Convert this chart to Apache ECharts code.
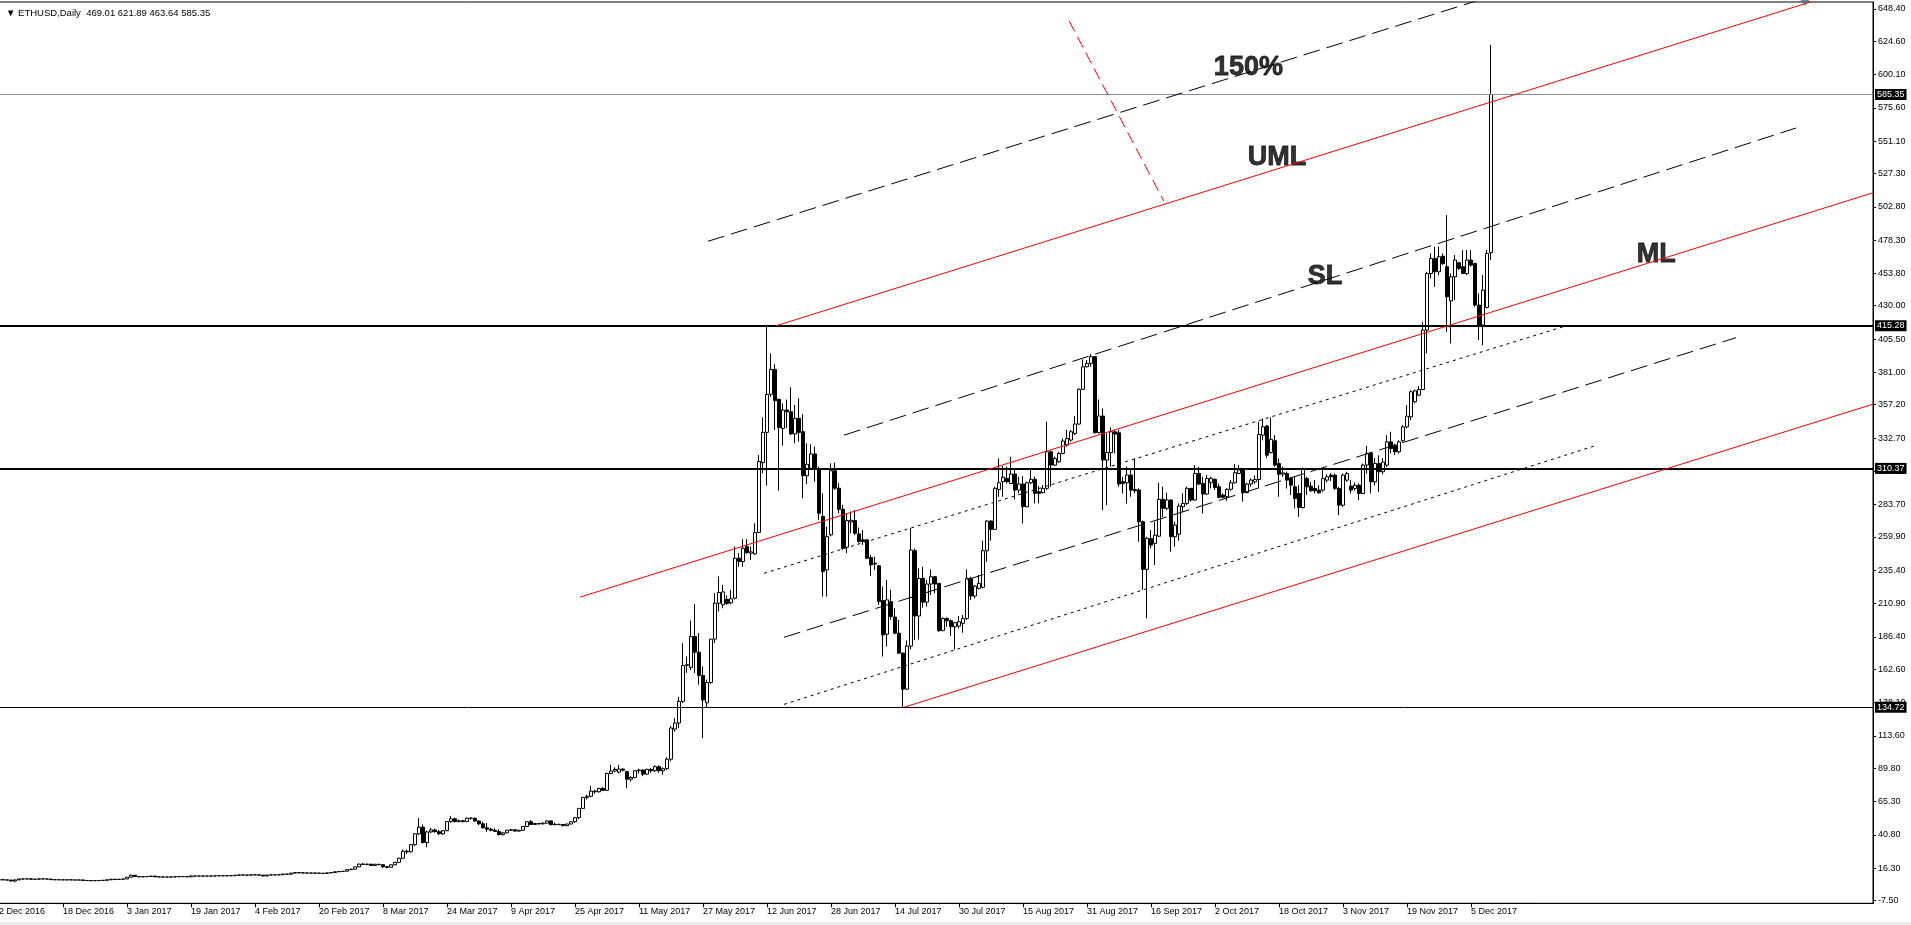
<!DOCTYPE html>
<html>
<head>
<meta charset="utf-8">
<script src="https://cdn.jsdelivr.net/npm/echarts@6/dist/echarts.min.js"></script>
<style>html,body{margin:0;padding:0;background:#fff;}#c{width:1911px;height:925px;}</style>
</head>
<body>
<div id="c"></div>
<script>
// ---- DATA ----
const symbolName = 'ETHUSD,Daily';
const firstDay = '2016-12-02';
const slotCount = 469; // daily slots incl. chart-shift space
const tickLabels = ['2 Dec 2016','18 Dec 2016','3 Jan 2017','19 Jan 2017','4 Feb 2017','20 Feb 2017','8 Mar 2017','24 Mar 2017','9 Apr 2017','25 Apr 2017','11 May 2017','27 May 2017','12 Jun 2017','28 Jun 2017','14 Jul 2017','30 Jul 2017','15 Aug 2017','31 Aug 2017','16 Sep 2017','2 Oct 2017','18 Oct 2017','3 Nov 2017','19 Nov 2017','5 Dec 2017'];
const priceTicks = [648.40,624.60,600.10,575.60,551.10,527.30,502.80,478.30,453.80,430.00,405.50,381.00,357.20,332.70,308.20,283.70,259.90,235.40,210.90,186.40,162.60,138.10,113.60,89.80,65.30,40.80,16.30,-7.50];
// daily candles: [open, high, low, close]
const ohlc = [
[7.7,8.0,7.5,7.9],[7.9,8.0,7.6,7.7],[7.7,7.8,7.5,7.6],[7.6,7.7,6.5,6.9],[6.9,7.9,6.0,7.7],[7.7,8.5,7.6,8.4],[8.4,8.6,8.2,8.4],[8.4,8.6,8.3,8.5],[8.5,8.6,8.1,8.2],[8.2,8.3,8.0,8.2],
[8.2,8.6,8.1,8.5],[8.5,8.6,8.3,8.4],[8.4,8.5,8.2,8.3],[8.3,8.4,7.8,7.9],[7.9,8.0,7.6,7.8],[7.8,7.9,7.7,7.8],[7.8,7.9,7.6,7.7],[7.7,7.9,7.6,7.8],[7.8,7.9,7.6,7.7],[7.7,7.8,7.5,7.6],
[7.6,7.8,7.5,7.7],[7.7,7.8,7.2,7.3],[7.3,7.4,7.1,7.2],[7.2,7.3,7.0,7.1],[7.1,7.3,7.0,7.2],[7.2,7.4,7.1,7.3],[7.3,7.5,7.2,7.4],[7.4,7.9,7.3,7.8],[7.8,8.3,7.7,8.2],[8.2,8.3,7.9,8.0],
[8.0,8.3,7.9,8.2],[8.2,8.5,8.1,8.4],[8.4,9.8,8.3,9.7],[9.7,11.6,9.6,11.1],[11.1,11.4,9.9,10.2],[10.2,10.3,9.6,10.0],[10.0,10.2,9.7,10.1],[10.1,10.3,9.9,10.2],[10.2,10.6,10.1,10.5],[10.5,10.6,9.8,10.0],
[10.0,10.3,9.7,9.9],[9.9,10.0,9.6,9.8],[9.8,9.9,9.6,9.8],[9.8,10.0,9.7,9.9],[9.9,10.1,9.8,10.0],[10.0,10.3,9.9,10.2],[10.2,10.3,10.0,10.1],[10.1,10.2,9.9,10.0],[10.0,10.8,9.9,10.6],[10.6,10.8,10.4,10.5],
[10.5,10.7,10.4,10.6],[10.6,10.7,10.4,10.5],[10.5,10.6,10.4,10.5],[10.5,10.7,10.4,10.6],[10.6,10.8,10.5,10.7],[10.7,10.9,10.6,10.8],[10.8,11.0,10.6,10.7],[10.7,10.9,10.6,10.8],[10.8,10.9,10.7,10.8],[10.8,11.2,10.7,11.1],
[11.1,11.5,11.0,11.4],[11.4,11.5,11.2,11.3],[11.3,11.4,11.1,11.2],[11.2,11.6,11.1,11.5],[11.5,11.6,11.3,11.4],[11.4,11.5,11.1,11.2],[11.2,11.4,10.3,10.6],[10.6,11.4,10.5,11.3],[11.3,11.5,11.2,11.4],[11.4,11.5,11.3,11.4],
[11.4,11.6,11.3,11.5],[11.5,12.2,11.4,12.0],[12.0,12.1,11.8,11.9],[11.9,12.8,11.8,12.7],[12.7,13.3,12.6,13.1],[13.1,13.1,12.7,12.9],[12.9,13.0,12.7,12.8],[12.8,12.9,12.6,12.7],[12.7,12.9,12.6,12.8],[12.8,12.9,12.6,12.7],
[12.7,12.8,12.5,12.6],[12.6,12.7,12.4,12.5],[12.5,13.0,12.4,12.9],[12.9,13.3,12.8,13.1],[13.1,13.8,13.0,13.7],[13.7,14.0,13.5,13.9],[13.9,14.2,13.6,14.1],[14.1,15.5,14.0,15.3],[15.3,15.8,15.0,15.6],[15.6,17.5,15.5,17.3],
[17.3,19.8,17.0,19.3],[19.3,20.2,18.6,19.1],[19.1,19.6,18.4,19.3],[19.3,19.4,17.9,18.3],[18.3,19.5,18.2,19.2],[19.2,19.5,18.5,18.9],[18.9,19.0,16.4,17.4],[17.4,17.8,16.2,17.0],[17.0,19.0,16.8,18.8],[18.8,21.0,18.6,20.6],
[20.6,24.0,20.4,23.6],[23.6,30.0,23.2,28.8],[28.8,29.9,26.8,28.4],[28.4,34.0,27.8,33.6],[33.6,42.0,32.7,41.6],[41.6,53.3,40.8,46.5],[46.5,48.5,34.5,35.2],[35.2,44.0,31.8,43.0],[43.0,46.0,42.0,44.5],[44.5,45.5,42.5,43.2],
[43.2,44.5,40.8,41.6],[41.6,44.4,41.0,43.9],[43.9,51.0,43.5,50.6],[50.6,54.8,49.8,52.6],[52.6,53.5,50.0,50.6],[50.6,52.0,50.0,51.2],[51.2,51.8,50.0,50.6],[50.6,53.6,50.4,53.1],[53.1,54.0,52.0,53.0],[53.0,53.5,50.5,51.0],
[51.0,51.5,48.0,49.0],[49.0,50.5,45.5,46.0],[46.0,49.5,43.0,45.0],[45.0,46.0,43.5,44.2],[44.2,45.8,43.0,43.4],[43.4,45.0,40.5,41.0],[41.0,43.0,40.5,42.3],[42.3,44.6,42.0,44.2],[44.2,45.2,43.8,44.6],[44.6,45.0,43.2,43.6],
[43.6,44.5,43.3,44.2],[44.2,47.2,43.8,47.0],[47.0,50.8,46.5,50.5],[50.5,51.8,48.0,48.5],[48.5,49.6,48.0,49.2],[49.2,49.5,48.4,48.9],[48.9,50.0,48.6,49.4],[49.4,51.5,49.2,51.1],[51.1,51.3,48.0,48.3],[48.3,49.9,48.0,48.6],
[48.6,49.0,48.0,48.4],[48.4,48.9,47.2,47.6],[47.6,49.0,47.4,48.8],[48.8,50.8,48.6,50.5],[50.5,53.8,49.5,53.5],[53.5,60.6,52.3,60.3],[60.3,68.8,60.0,68.4],[68.4,70.2,66.8,69.2],[69.2,77.0,68.5,73.0],[73.0,74.0,71.0,72.5],
[72.5,75.5,72.0,75.0],[75.0,76.0,73.0,73.6],[73.6,86.5,73.2,86.0],[86.0,92.5,85.5,87.8],[87.8,90.5,86.8,89.0],[87.0,92.4,86.2,89.2],[89.2,90.0,87.5,88.4],[87.4,88.0,75.1,81.8],[81.8,84.0,80.0,83.0],[83.0,88.5,82.5,88.0],
[88.0,89.5,86.0,88.5],[88.5,89.0,84.0,85.5],[85.5,89.5,85.0,89.0],[89.0,90.0,86.5,88.0],[88.0,92.0,87.0,91.0],[91.0,92.0,86.5,88.0],[88.0,90.5,85.0,89.5],[89.5,98.0,88.5,96.5],[96.5,121.0,95.0,119.4],[118.6,126.7,116.9,123.1],
[123.1,142.2,119.4,139.0],[139.0,181.8,137.7,165.4],[165.4,172.0,160.0,166.0],[164.0,198.5,162.0,186.7],[186.7,210.5,159.8,175.2],[175.2,189.2,151.2,158.1],[158.1,164.7,112.0,140.0],[138.0,155.0,134.7,152.9],[152.9,185.0,152.0,184.8],[184.8,218.6,181.8,211.2],
[211.2,230.8,205.1,219.1],[210.0,224.7,207.5,219.5],[214.0,217.0,210.0,211.0],[211.5,221.0,210.5,214.5],[214.9,252.9,214.0,244.3],[244.3,248.0,238.0,241.8],[241.8,258.3,238.0,251.6],[252.9,258.3,247.5,248.5],[248.0,252.9,243.0,249.0],[247.5,270.0,246.8,263.2],
[263.2,320.3,263.0,315.4],[314.6,348.0,306.8,336.9],[336.9,415.28,297.7,364.8],[364.8,395.0,363.0,383.2],[383.2,386.9,338.6,360.2],[361.2,361.5,294.0,340.3],[339.8,358.2,327.1,353.3],[353.3,361.0,340.0,352.0],[352.0,370.0,335.0,335.7],[335.7,357.0,328.8,347.2],
[347.2,361.9,330.0,336.7],[337.4,350.2,288.4,305.0],[305.0,328.8,298.7,313.4],[310.4,328.1,309.2,321.0],[321.0,326.4,300.6,309.7],[309.7,311.7,272.5,277.4],[275.0,292.1,216.1,234.5],[235.7,267.6,216.1,260.2],[261.5,314.1,260.5,308.7],[308.7,314.6,294.5,295.8],
[295.8,299.4,277.4,280.3],[280.3,283.5,250.4,251.6],[252.4,277.4,248.0,272.0],[271.0,278.6,262.7,272.2],[272.0,279.8,261.5,262.7],[262.2,266.9,255.3,256.6],[257.8,265.1,254.1,256.6],[257.8,258.3,243.6,244.3],[244.8,246.8,231.3,239.4],[240.6,245.5,235.7,240.0],
[238.7,239.4,210.0,212.4],[213.2,223.5,172.0,187.9],[188.4,228.4,179.4,213.7],[212.4,221.1,199.0,201.4],[201.0,207.5,188.4,189.2],[189.2,199.0,174.0,174.5],[174.5,175.0,134.72,148.0],[148.0,183.8,147.5,179.7],[179.7,266.3,177.3,250.3],[249.8,251.5,184.1,201.8],
[201.8,236.8,184.6,229.5],[229.5,238.0,208.0,212.0],[212.0,228.2,208.6,225.3],[225.3,236.1,217.2,230.7],[230.7,231.0,218.5,225.3],[225.8,225.8,190.2,191.0],[191.0,200.8,190.7,200.0],[200.0,200.8,193.9,198.3],[198.3,199.4,187.1,193.9],[193.9,197.5,177.2,196.9],
[194.4,201.8,192.7,197.6],[196.4,202.5,189.5,200.0],[200.0,236.1,198.8,229.5],[229.5,230.7,213.5,216.5],[216.5,224.6,214.8,223.8],[222.1,231.9,221.4,225.8],[222.9,257.2,222.1,249.8],[249.8,272.4,241.7,271.6],[271.6,272.4,257.2,265.5],[265.5,296.9,265.0,295.7],
[294.9,317.7,289.5,299.8],[300.6,312.1,289.5,303.9],[303.0,311.6,299.3,300.6],[299.3,319.0,298.9,306.2],[306.2,309.2,287.6,294.4],[294.4,304.2,292.0,298.9],[298.9,304.7,269.9,282.2],[282.2,300.6,281.7,299.8],[299.8,310.4,298.9,302.3],[302.3,304.2,284.6,292.0],
[293.2,297.4,284.6,292.0],[292.5,298.1,292.0,295.7],[295.7,344.7,294.4,322.6],[322.6,323.4,296.9,312.8],[312.8,319.0,312.1,317.7],[315.3,322.6,314.5,321.4],[321.4,332.4,320.9,330.5],[327.5,338.6,326.3,332.4],[331.2,338.6,330.0,337.3],[336.1,348.9,334.9,343.0],
[343.0,369.2,342.2,368.5],[368.5,390.5,368.0,385.1],[385.1,390.1,384.7,387.6],[387.6,394.5,385.1,392.5],[392.5,393.0,336.1,336.6],[336.6,361.1,336.1,348.9],[348.9,354.5,279.7,316.5],[316.5,336.1,283.4,322.1],[321.9,340.5,311.6,337.3],[337.3,338.6,321.4,335.6],
[336.6,338.6,296.9,298.9],[300.6,304.2,292.0,299.3],[299.8,311.6,284.6,305.5],[305.5,309.2,289.5,294.4],[294.9,317.7,292.0,294.0],[294.4,295.7,256.4,271.1],[271.1,271.9,220.9,236.1],[236.1,260.1,200.1,258.9],[258.9,265.0,251.5,254.0],[255.2,271.1,239.3,261.3],
[260.5,299.8,260.1,287.6],[287.6,296.9,274.8,281.0],[281.0,292.5,279.7,287.1],[287.1,287.6,249.1,260.1],[260.1,271.1,252.8,268.7],[262.0,284.6,257.2,282.7],[282.2,292.0,278.5,284.6],[284.6,296.9,283.4,295.7],[295.7,295.7,285.9,287.1],[287.1,312.8,286.6,306.7],
[306.7,311.6,298.1,298.9],[299.3,304.2,277.3,291.5],[291.5,305.5,290.8,303.0],[299.8,304.2,295.7,303.0],[302.3,303.0,294.4,296.4],[296.9,299.3,288.4,289.1],[290.8,292.0,288.4,289.1],[289.6,295.7,286.6,295.0],[295.0,301.8,293.9,299.8],[299.8,313.6,299.3,307.2],
[306.7,312.8,306.2,309.2],[309.2,309.7,285.9,292.5],[292.5,299.8,292.0,298.9],[298.9,303.0,296.9,301.8],[300.5,305.0,299.0,302.2],[302.2,344.6,295.6,335.3],[334.8,347.0,331.0,341.0],[341.5,342.2,318.0,320.1],[322.0,347.8,321.4,331.7],[330.7,334.8,311.5,312.8],
[314.0,317.7,289.5,306.1],[306.1,311.5,304.2,307.1],[306.6,307.9,295.6,301.7],[302.9,304.2,290.7,298.0],[296.8,304.2,280.9,288.2],[291.9,298.0,274.8,281.6],[281.6,311.0,280.9,310.3],[302.9,304.2,290.7,296.8],[297.3,300.5,293.2,293.9],[295.6,301.7,292.0,293.9],
[294.4,298.0,291.9,292.4],[294.4,310.3,293.2,302.9],[301.7,306.0,300.0,304.2],[305.4,307.0,301.0,304.2],[305.4,306.6,294.4,295.6],[295.6,296.8,276.0,283.3],[283.3,306.6,282.1,305.4],[301.7,307.9,300.5,306.6],[297.3,301.7,292.0,294.4],[295.6,300.0,294.0,298.0],
[298.0,299.3,287.0,291.9],[291.9,314.0,291.4,312.8],[312.8,326.8,306.6,321.4],[321.4,322.6,291.9,300.5],[300.5,318.0,298.0,314.0],[314.0,320.0,293.0,307.9],[307.9,318.0,306.0,315.0],[312.8,334.8,311.5,329.9],[329.9,337.3,321.4,325.0],[327.5,328.7,320.1,322.6],
[322.6,331.1,321.4,329.9],[330.7,342.2,330.0,340.9],[340.9,356.9,339.7,348.8],[348.3,367.9,345.9,366.7],[359.4,368.4,358.1,367.4],[364.2,370.9,363.5,368.4],[368.4,418.2,367.9,412.1],[412.1,455.0,394.9,453.7],[453.7,468.5,450.1,464.8],[464.8,473.4,443.9,455.0],
[455.0,473.4,452.5,466.0],[466.5,468.5,459.9,461.1],[458.7,496.7,410.8,436.6],[433.6,453.7,402.3,451.3],[451.3,467.3,434.1,463.6],[461.6,462.3,456.2,457.4],[458.7,470.9,453.3,453.7],[453.7,470.9,452.5,463.6],[463.6,470.9,458.7,459.9],[461.1,461.1,429.2,430.5],
[430.5,439.0,404.7,415.8],[415.8,452.5,401.0,441.5],[428.7,470.9,428.0,468.5],[469.01,621.89,463.64,585.35]
];
// horizontal levels (bid line first)
const levelValues = [585.35, 415.28, 310.37, 134.72];
// drawn objects, endpoints as [bar index, price]
const umlLine = [[194.25,415.28],[468.5,667.8]];
const mlLine = [[145.25,215.7],[468.5,513.1]];
const lmlLine = [[226.25,134.72],[468.5,357.6]];
const line150 = [[177.25,477.4],[468.5,745.4]];
const slLine = [[211.25,334.8],[449.25,560.7]];
const lowerDashLine = [[196.25,186.1],[434.25,406.5]];
const upperDotLine = [[191.25,233.2],[391,414.5]];
const lowerDotLine = [[196.25,136.8],[399.5,327.5]];
const redDashLine = [[267.5,639.6],[291.2,506.9]];
const labelNames = ['150%','UML','SL','ML'];
const labelAnchors = [[312.35,605.2],[319.5,539.0],[331.5,451.3],[414.3,467.9]];
const shiftMarker = [[451.5,652.6]];

// ---- BUILD ----
const FONT = "'Liberation Sans', Arial, sans-serif";
const dayMs = 86400000;
const t0 = Date.parse(firstDay + 'T00:00:00Z');
const categories = [];
for (let i = 0; i < slotCount; i++) categories.push(new Date(t0 + i * dayMs).toISOString().slice(0, 10));
const candleData = ohlc.map(r => [r[0], r[3], r[2], r[1]]);
const last = ohlc[ohlc.length - 1];
const titleText = '\u25BC ' + symbolName + '  ' + last.map(v => v.toFixed(2)).join(' ');
const showTick = idx => idx % 16 === 0 && idx / 16 < tickLabels.length;

const levelStyle = [
  {color:'#7F8EA3', width:1},
  {color:'#000', width:2},
  {color:'#000', width:2},
  {color:'#000', width:1}
];

function seg(data, color, type, name) {
  return {
    type:'line', name, xAxisIndex:1, yAxisIndex:0, data, symbol:'none', silent:true,
    clip:true, z:5, animation:false,
    lineStyle:{color, width:1, type}
  };
}

const chart = echarts.init(document.getElementById('c'));
chart.setOption({
  animation:false,
  backgroundColor:'#fff',
  title:{text:titleText, left:1, top:3, textStyle:{fontSize:9.5, fontWeight:'normal', color:'#000', fontFamily:FONT}},
  grid:{left:-3, right:38, top:2, bottom:21.7, show:true, borderColor:'#000', borderWidth:1, containLabel:false, outerBoundsMode:'none'},
  xAxis:[
    {type:'category', data:categories, boundaryGap:true,
     axisLine:{show:true, onZero:false, lineStyle:{color:'#000', width:1}},
     axisTick:{show:true, interval:showTick, alignWithLabel:true, length:4, lineStyle:{color:'#000'}},
     axisLabel:{show:true, interval:showTick, formatter:(v, idx) => tickLabels[idx / 16] || '', align:'left', margin:4, fontSize:9, color:'#000', fontFamily:FONT},
     splitLine:{show:false}},
    {type:'value', min:-0.5, max:slotCount - 0.5, show:false, splitLine:{show:false}}
  ],
  yAxis:{type:'value', position:'right', min:-9.5, max:653.4, scale:true,
    axisLine:{show:true, onZero:false, lineStyle:{color:'#000'}},
    axisTick:{show:true, length:3, customValues:priceTicks, lineStyle:{color:'#000'}},
    axisLabel:{show:true, customValues:priceTicks, formatter:v => Number(v).toFixed(2), margin:5, fontSize:9, color:'#000', fontFamily:FONT},
    splitLine:{show:false}},
  graphic:[{type:'rect', shape:{x:0, y:922, width:1911, height:3}, style:{fill:'#ECECEC'}, silent:true}],
  series:[
    {type:'candlestick', name:'ETHUSD', xAxisIndex:0, yAxisIndex:0, data:candleData, barWidth:3, z:2,
     itemStyle:{color:'#fff', color0:'#000', borderColor:'#000', borderColor0:'#000', borderWidth:1}},
    {type:'scatter', name:'labels', xAxisIndex:1, yAxisIndex:0, z:4, silent:true, symbol:'circle', symbolSize:1,
     itemStyle:{color:'rgba(0,0,0,0)'},
     label:{show:true, position:'inside', formatter:p => p.name, fontSize:27, fontWeight:'bold', color:'#000', textBorderColor:'#000', textBorderWidth:0.8, fontFamily:FONT},
     data: labelNames.map((n, k) => ({name:n, value:labelAnchors[k]}))},
    seg(umlLine, '#FF0000', 'solid', 'UML'),
    seg(mlLine, '#FF0000', 'solid', 'ML'),
    seg(lmlLine, '#FF0000', 'solid', 'LML'),
    seg(line150, '#000', [17, 7], '150%'),
    seg(slLine, '#000', [17, 7], 'SL'),
    seg(lowerDashLine, '#000', [17, 7], 'lower dash'),
    seg(upperDotLine, '#000', [3, 4], 'upper dot'),
    seg(lowerDotLine, '#000', [3, 4], 'lower dot'),
    seg(redDashLine, '#FF0000', [12, 6], 'red dash'),
    {type:'line', name:'levels', xAxisIndex:1, yAxisIndex:0, data:[], clip:false, z:6, silent:true,
     markLine:{silent:true, symbol:['none','none'], animation:false,
       label:{show:true, position:'end', distance:2, formatter:p => Number(p.value).toFixed(2), backgroundColor:'#000', color:'#fff', fontSize:9, fontFamily:FONT, padding:[1,2,1,2]},
       data: levelValues.map((v, k) => ({yAxis:v, lineStyle:{color:levelStyle[k].color, width:levelStyle[k].width, type:'solid'}}))}},
    {type:'scatter', name:'shift', xAxisIndex:1, yAxisIndex:0, z:8, silent:true, symbol:'triangle', symbolRotate:180, symbolSize:[9,6],
     itemStyle:{color:'#5B6B82'}, data:shiftMarker}
  ]
});
</script>
</body>
</html>
